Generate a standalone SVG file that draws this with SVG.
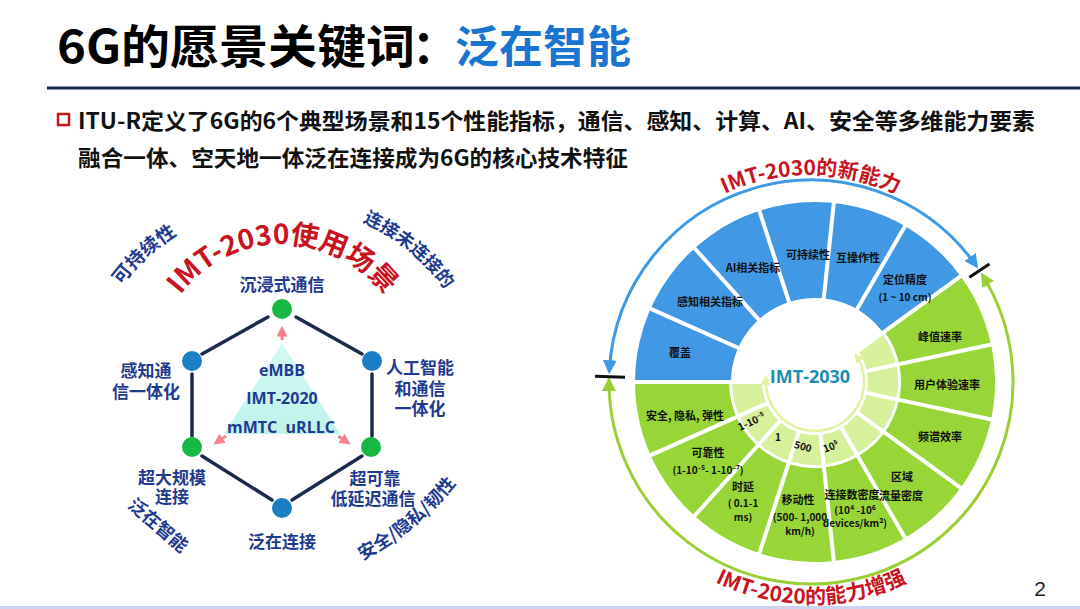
<svg xmlns="http://www.w3.org/2000/svg" width="1080" height="609" viewBox="0 0 1080 609">
<style>
.cj{font-family:"Noto Sans CJK SC","Noto Sans",sans-serif;font-weight:700}
.nav{fill:#1f3a8f}
.nl{font-size:17px;text-anchor:middle}
.red{fill:#c8141f}
.wl{font-size:11px;text-anchor:middle;fill:#111}
.ws{font-size:10px;text-anchor:middle;fill:#111}
.edge{stroke:#1c2b4d;stroke-width:3.5;stroke-linecap:round;fill:none}
.sep{stroke:#fff;stroke-width:4}
</style>
<defs>
<marker id="ab" viewBox="0 0 10 10" refX="8" refY="5" markerUnits="userSpaceOnUse" markerWidth="14" markerHeight="14" orient="auto-start-reverse"><path d="M0,0 L10,5 L0,10 z" fill="#3d9ae4"/></marker>
<marker id="ag" viewBox="0 0 10 10" refX="8" refY="5" markerUnits="userSpaceOnUse" markerWidth="14" markerHeight="14" orient="auto-start-reverse"><path d="M0,0 L10,5 L0,10 z" fill="#9ccf35"/></marker>
<marker id="ap" viewBox="0 0 10 10" refX="8" refY="5" markerUnits="userSpaceOnUse" markerWidth="10" markerHeight="10" orient="auto-start-reverse"><path d="M0,0 L10,5 L0,10 z" fill="#e2f2a0"/></marker>
<marker id="apk" viewBox="0 0 10 10" refX="6" refY="5" markerUnits="userSpaceOnUse" markerWidth="11" markerHeight="11" orient="auto"><path d="M0,0 L10,5 L0,10 z" fill="#f4838f"/></marker>
<linearGradient id="tri" x1="0" y1="0" x2="0" y2="1"><stop offset="0" stop-color="#d4faf4"/><stop offset="1" stop-color="#bff2ea"/></linearGradient>
<path id="arcTopL" d="M 82,405 A 200 200 0 0 1 482,405"/>
<path id="arcIMT" d="M 155,372 A 128 128 0 0 1 411,372"/>
<path id="arcSafe" d="M -88,289 A 307 307 0 0 0 526,289"/>
<path id="arcTopR" d="M 604,382 A 207 207 0 0 1 1018,382"/>
<path id="arcBotR" d="M 589,382 A 222 222 0 0 0 1033,382"/>
</defs>
<rect width="1080" height="609" fill="#fff"/>

<g id="title">
<text class="cj" x="57" y="63" font-size="46" fill="#000" textLength="358" lengthAdjust="spacingAndGlyphs">6G的愿景关键词</text>
<text class="cj" x="412" y="63" font-size="46" fill="#000">：</text>
<text class="cj" x="455" y="63" font-size="44" fill="#1a74d2">泛在智能</text>
<line x1="47" y1="88" x2="1080" y2="88" stroke="#1c2a5c" stroke-width="3"/>
</g>

<g id="bullet">
<rect x="58" y="114" width="11" height="11" fill="#fff" stroke="#c8161d" stroke-width="2.5"/>
<text class="cj" x="78" y="129" font-size="22" fill="#111" textLength="957" lengthAdjust="spacingAndGlyphs">ITU-R定义了6G的6个典型场景和15个性能指标，通信、感知、计算、AI、安全等多维能力要素</text>
<text class="cj" x="78" y="166" font-size="22" fill="#111" textLength="550" lengthAdjust="spacingAndGlyphs">融合一体、空天地一体泛在连接成为6G的核心技术特征</text>
</g>

<g id="scenarios">
<polygon points="282,343 224,434 340,434" fill="url(#tri)"/>
<g id="connectors">
<line class="edge" x1="268" y1="317" x2="202" y2="354"/>
<line class="edge" x1="296" y1="317" x2="362" y2="354"/>
<line class="edge" x1="192" y1="374" x2="192" y2="436"/>
<line class="edge" x1="372" y1="374" x2="372" y2="436"/>
<line class="edge" x1="202" y1="456" x2="272" y2="500"/>
<line class="edge" x1="362" y1="456" x2="292" y2="500"/>
<line x1="282" y1="340" x2="282" y2="330" stroke="#f4838f" stroke-width="3" marker-end="url(#apk)"/>
<line x1="226" y1="436" x2="217" y2="442" stroke="#f4838f" stroke-width="3" marker-end="url(#apk)"/>
<line x1="338" y1="436" x2="347" y2="442" stroke="#f4838f" stroke-width="3" marker-end="url(#apk)"/>
</g>
<g id="n-top"><circle cx="282" cy="309" r="10" fill="#17b944"/><text class="cj nav nl" x="282" y="291">沉浸式通信</text></g>
<g id="n-ul"><circle cx="192" cy="361" r="10" fill="#1b7fc6"/><text class="cj nav nl" x="146" y="377">感知通</text><text class="cj nav nl" x="146" y="398">信一体化</text></g>
<g id="n-ur"><circle cx="372" cy="361" r="10" fill="#1b7fc6"/><text class="cj nav nl" x="420" y="374">人工智能</text><text class="cj nav nl" x="420" y="395">和通信</text><text class="cj nav nl" x="420" y="415">一体化</text></g>
<g id="n-ll"><circle cx="192" cy="447" r="10" fill="#17b944"/><text class="cj nav nl" x="172" y="484">超大规模</text><text class="cj nav nl" x="172" y="503">连接</text></g>
<g id="n-lr"><circle cx="371" cy="447" r="10" fill="#17b944"/><text class="cj nav nl" x="375" y="485">超可靠</text><text class="cj nav nl" x="373" y="505">低延迟通信</text></g>
<g id="n-bot"><circle cx="282" cy="508" r="10" fill="#1b7fc6"/><text class="cj nav nl" x="282" y="548">泛在连接</text></g>
<g id="center-text" font-family="'Open Sans','Noto Sans',sans-serif" font-weight="700" font-size="16" fill="#1f3a8f" text-anchor="middle">
<text x="282" y="376">eMBB</text>
<text x="282" y="404">IMT-2020</text>
<text x="281" y="433">mMTC&#160;&#160;uRLLC</text>
</g>
<text class="cj red" font-size="28"><textPath href="#arcIMT" startOffset="50%" text-anchor="middle">IMT-2030使用场景</textPath></text>
<text class="cj nav" font-size="19"><textPath href="#arcTopL" startOffset="26.4%" text-anchor="middle">可持续性</textPath></text>
<text class="cj nav" font-size="18"><textPath href="#arcTopL" startOffset="71.8%" text-anchor="middle">连接未连接的</textPath></text>
<text class="cj nav" font-size="18" text-anchor="middle" transform="translate(154,530) rotate(41)">泛在智能</text>
<text class="cj nav" font-size="18"><textPath href="#arcSafe" startOffset="71.8%" text-anchor="middle">安全/隐私/韧性</textPath></text>
</g>

<g id="wheel">
<path d="M 635,382 A 180 180 0 0 1 960.62,276.20 L 882.96,332.62 A 84 84 0 0 0 731,382 Z" fill="#4199e6"/>
<path d="M 960.62,276.20 A 180 180 0 1 1 635,382 L 729,382 A 86 86 0 1 0 884.57,331.45 Z" fill="#98d637"/>
<path d="M 882.15,333.21 A 83 83 0 1 1 732,382 L 762,382 A 53 53 0 1 0 857.88,350.85 Z" fill="#d6f09c"/>
<g class="sep">
<line x1="741.92" y1="349.46" x2="646.92" y2="307.17"/>
<line x1="761.47" y1="322.55" x2="691.89" y2="245.27"/>
<line x1="790.28" y1="305.91" x2="758.14" y2="206.99"/>
<line x1="823.36" y1="302.44" x2="834.23" y2="199.01"/>
<line x1="855" y1="312.72" x2="907" y2="222.65"/>
<line x1="855.45" y1="352.61" x2="963.86" y2="273.84"/>
<line x1="863.91" y1="371.60" x2="994.97" y2="343.75"/>
<line x1="863.91" y1="392.40" x2="994.97" y2="420.25"/>
<line x1="855.45" y1="411.39" x2="963.86" y2="490.16"/>
<line x1="840" y1="425.30" x2="907" y2="541.35"/>
<line x1="820.23" y1="431.73" x2="834.23" y2="564.99"/>
<line x1="799.55" y1="429.56" x2="758.14" y2="557"/>
<line x1="781.55" y1="419.16" x2="691.89" y2="518.73"/>
<line x1="769.33" y1="402.34" x2="646.92" y2="456.83"/>
<line x1="765" y1="382" x2="631" y2="382"/>
</g>
<path d="M 766.27,376.88 A 49 49 0 1 0 855.62,354.60" fill="none" stroke="#e2f2a0" stroke-width="2.5" marker-start="url(#ap)" marker-end="url(#ap)"/>
<text x="810" y="383" text-anchor="middle" font-family="'Open Sans','Noto Sans',sans-serif" font-weight="700" font-size="18" fill="#1a8db5">IMT-2030</text>
<g class="cj">
<text class="wl" x="680" y="357">覆盖</text>
<text class="wl" x="710" y="306">感知相关指标</text>
<text class="wl" x="753" y="272">AI相关指标</text>
<text class="wl" x="808" y="259">可持续性</text>
<text class="wl" x="858" y="262">互操作性</text>
<text class="wl" x="905" y="284">定位精度</text>
<text class="ws" x="905" y="301">(1 ~ 10 cm)</text>
<text class="wl" x="940" y="341">峰值速率</text>
<text class="wl" x="947" y="389">用户体验速率</text>
<text class="wl" x="940" y="441">频谱效率</text>
<text class="wl" x="902" y="481">区域</text>
<text class="wl" x="901" y="500">流量密度</text>
<text class="wl" x="852" y="499">连接数密度</text>
<text class="ws" x="855" y="514">(10⁴ -10⁶</text>
<text class="ws" x="855" y="527">devices/km²)</text>
<text class="wl" x="798" y="504">移动性</text>
<text class="ws" x="800" y="521">(500- 1,000</text>
<text class="ws" x="800" y="535">km/h)</text>
<text class="wl" x="743" y="491">时延</text>
<text class="ws" x="743" y="507">( 0.1-1</text>
<text class="ws" x="743" y="521">ms)</text>
<text class="wl" x="708" y="457">可靠性</text>
<text class="ws" x="708" y="474">(1-10⁻⁵- 1-10⁻⁷)</text>
<text class="wl" x="685" y="420">安全, 隐私, 弹性</text>
<text class="ws" font-size="9" transform="translate(753,425) rotate(-25)">1-10⁻⁵</text>
<text class="ws" font-size="9" x="778" y="441">1</text>
<text class="ws" font-size="9" transform="translate(802,450) rotate(15)">500</text>
<text class="ws" font-size="9" transform="translate(832,450) rotate(-20)">10⁵</text>
</g>
<g id="wheel-arcs">
<path d="M 609.28,371.43 A 202 202 0 0 1 976.47,266.14" fill="none" stroke="#3d9ae4" stroke-width="3" marker-start="url(#ab)" marker-end="url(#ab)"/>
<path d="M 609.01,379.88 A 202 202 0 1 0 982.31,274.96" fill="none" stroke="#9ccf35" stroke-width="3" marker-start="url(#ag)" marker-end="url(#ag)"/>
<line x1="625.06" y1="377.13" x2="595.07" y2="376.35" stroke="#111" stroke-width="3"/>
<line x1="969.44" y1="277.13" x2="989.45" y2="263.88" stroke="#111" stroke-width="3"/>
</g>
<text class="cj red" font-size="21"><textPath href="#arcTopR" startOffset="50%" text-anchor="middle">IMT-2030的新能力</textPath></text>
<text class="cj red" font-size="21"><textPath href="#arcBotR" startOffset="50%" text-anchor="middle">IMT-2020的能力增强</textPath></text>
</g>

<text x="1040" y="596" text-anchor="middle" font-family="'Liberation Sans',sans-serif" font-size="21" fill="#222">2</text>
<rect x="0" y="606" width="1080" height="3" fill="#cdd3f2"/>
</svg>
